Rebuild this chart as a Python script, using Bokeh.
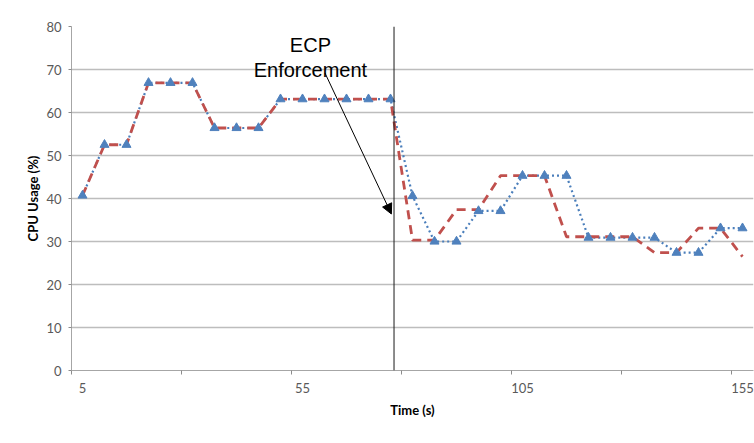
from bokeh.plotting import figure
from bokeh.models import (FixedTicker, Span, Arrow, NormalHead, Label, Legend,
                          LegendItem, Range1d)
from bokeh.embed import file_html
from bokeh.resources import INLINE

# ---- data ----
time_s = [5, 10, 15, 20, 25, 30, 35, 40, 45, 50, 55, 60, 65, 70, 75,
          80, 85, 90, 95, 100, 105, 110, 115, 120, 125, 130, 135, 140, 145, 150, 155]
observed = [40.7, 52.5, 52.5, 66.9, 66.9, 66.9, 56.4, 56.4, 56.4, 63.1, 63.1, 63.1, 63.1, 63.1, 63.1,
            40.6, 30.0, 30.0, 37.1, 37.1, 45.3, 45.3, 45.3, 30.9, 30.9, 30.9, 30.9, 27.4, 27.4, 33.1, 33.1]
expected = [40.7, 52.5, 52.5, 66.9, 66.9, 66.9, 56.4, 56.4, 56.4, 63.1, 63.1, 63.1, 63.1, 63.1, 63.1,
            30.3, 30.3, 37.4, 37.4, 45.3, 45.3, 45.3, 31.1, 31.1, 31.1, 31.1, 27.4, 27.4, 33.1, 33.1, 26.5]
x_tick_labels = [5, 55, 105, 155]
x_category_edges = [2.5, 27.5, 52.5, 77.5, 102.5, 127.5, 152.5]
y_ticks = [0, 10, 20, 30, 40, 50, 60, 70, 80]
enforcement_time = 75.8
annotation_lines = ["ECP", "Enforcement"]

OBS_COLOR = "#4A7EBB"
EXP_COLOR = "#C0504D"
TICK_FONT = "Lato"

p = figure(frame_width=682, frame_height=344, output_backend="svg", toolbar_location=None,
           x_range=Range1d(2.5, 157.5), y_range=Range1d(0, 80),
           min_border_left=71, min_border_top=26, min_border_bottom=40, min_border_right=1)
p.outline_line_color = None
p.background_fill_color = "white"
p.border_fill_color = "white"

# axes
p.xaxis.ticker = FixedTicker(ticks=x_tick_labels, minor_ticks=x_category_edges)
p.xaxis.major_tick_out = 0
p.xaxis.major_tick_in = 0
p.xaxis.minor_tick_out = 4
p.xaxis.minor_tick_in = 0
p.xaxis.minor_tick_line_color = "#8c8c8c"
p.xaxis.axis_line_color = "#a6a6a6"
p.xaxis.major_label_standoff = 8
p.xaxis.axis_label = "Time (s)"
p.xaxis.axis_label_standoff = 6

p.yaxis.ticker = FixedTicker(ticks=y_ticks)
p.yaxis.major_tick_out = 3
p.yaxis.major_tick_in = 0
p.yaxis.minor_tick_line_color = None
p.yaxis.major_tick_line_color = "#8c8c8c"
p.yaxis.axis_line_color = "#a6a6a6"
p.yaxis.major_label_standoff = 7
p.yaxis.axis_label = "CPU Usage (%)"
p.yaxis.axis_label_standoff = 2

for ax in (p.xaxis, p.yaxis):
    ax.major_label_text_font = TICK_FONT
    ax.major_label_text_font_size = "13px"
    ax.major_label_text_color = "#595959"
    ax.axis_label_text_font = TICK_FONT
    ax.axis_label_text_font_size = "13px"
    ax.axis_label_text_font_style = "bold"
    ax.axis_label_text_color = "#000000"

p.xgrid.grid_line_color = None
p.ygrid.grid_line_color = "#bdbdbd"
p.ygrid.grid_line_width = 1.3

# series
obs_line = p.line(time_s, observed, line_color=OBS_COLOR, line_width=2.2, line_dash="2 3")
exp_line = p.line(time_s, expected, line_color=EXP_COLOR, line_width=2.8, line_dash="9 6")
obs_pts = p.scatter(time_s, observed, marker="triangle", size=9,
                    fill_color="#4F81BD", line_color="#4F81BD")

# enforcement marker
p.add_layout(Span(location=enforcement_time, dimension="height",
                  line_color="#1a1a1a", line_width=1))
p.add_layout(Arrow(end=NormalHead(size=10, fill_color="black", line_color="black", line_width=1),
                   x_start=60.1, y_start=69.2, x_end=75.2, y_end=36.4,
                   line_color="black", line_width=1))
p.add_layout(Label(x=56.8, y=75.7, text=annotation_lines[0], text_align="center",
                   text_baseline="alphabetic", text_font="Liberation Sans",
                   text_font_size="20px", text_color="black"))
p.add_layout(Label(x=56.8, y=69.9, text=annotation_lines[1], text_align="center",
                   text_baseline="alphabetic", text_font="Liberation Sans",
                   text_font_size="20px", text_color="black"))

legend = Legend(items=[LegendItem(label="Observed CPU Usage", renderers=[obs_line, obs_pts]),
                       LegendItem(label="Expected CPU Usage", renderers=[exp_line])],
                orientation="horizontal", nrows=1, location="center",
                glyph_width=28, glyph_height=16, label_height=16, label_standoff=5, spacing=37,
                padding=0, margin=0, border_line_color=None,
                background_fill_alpha=0, label_text_font=TICK_FONT,
                label_text_font_size="18px", label_text_color="black")
p.add_layout(legend, "below")

open("out.html", "w").write(file_html(p, INLINE))
